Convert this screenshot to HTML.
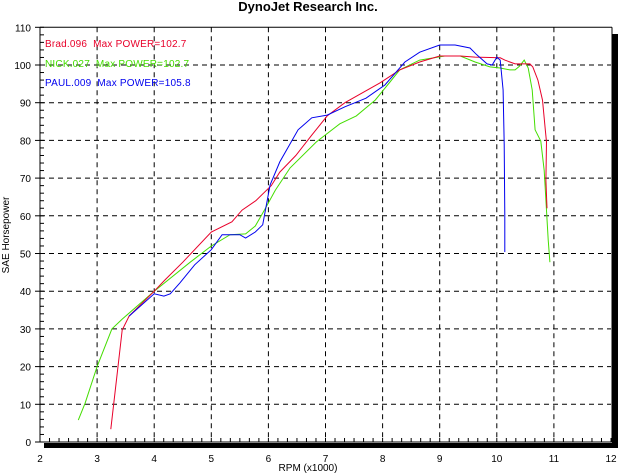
<!DOCTYPE html>
<html><head><meta charset="utf-8"><style>
html,body{margin:0;padding:0;background:#fff;}
svg{display:block;font-family:"Liberation Sans",sans-serif;}
.lg{white-space:pre;letter-spacing:0.2px;}
</style></head><body>
<svg id="chart" width="618" height="473" viewBox="0 0 618 473" xmlns="http://www.w3.org/2000/svg">
<text x="308" y="11" text-anchor="middle" font-size="13" font-weight="bold">DynoJet Research Inc.</text>
<g id="shadow">
<rect x="612" y="34" width="6" height="414" fill="#000"/>
<rect x="44" y="443" width="574" height="5" fill="#000"/>
</g>
<g id="grid"></g>
<g id="axes"></g>
<g id="series"></g>
<g id="legend">
<text class="lg" xml:space="preserve" x="45" y="47" font-size="10" fill="#e8002a">Brad.096  Max POWER=102.7</text>
<text class="lg" xml:space="preserve" x="45" y="67" font-size="10" fill="#44dd00">NICK.027  Max POWER=102.7</text>
<text class="lg" xml:space="preserve" x="45" y="86" font-size="10" fill="#0000ee">PAUL.009  Max POWER=105.8</text>
</g>
<text transform="translate(9,235) rotate(-90)" text-anchor="middle" font-size="10">SAE Horsepower</text>
<text x="308" y="471" text-anchor="middle" font-size="10">RPM (x1000)</text>
</svg>
<script>
const xTicks=[2,3,4,5,6,7,8,9,10,11,12];
const yTicks=[0,10,20,30,40,50,60,70,80,90,100,110];
const bradRpm=[3.24,3.44,3.56,4.0,4.19,4.5,5.0,5.36,5.54,5.78,6.05,6.2,6.48,6.76,7.03,7.34,7.95,8.3,8.65,9.0,9.36,9.62,10.06,10.14,10.32,10.58,10.63,10.72,10.8,10.85,10.87,10.86,10.88];
const bradHp=[3.4,29.7,33.4,40,43,47.7,55.7,58.4,61.5,64,68,71.6,76,81.4,86.5,90,95.2,98.7,100.8,102.4,102.4,102.1,101.9,101.3,100.3,100.3,99.5,96,90.7,82.8,79.6,69.5,62];
const nickRpm=[2.67,2.79,3.0,3.26,3.44,4.0,4.63,5.0,5.33,5.6,5.77,5.93,6.12,6.38,6.84,7.25,7.54,7.87,8.13,8.3,8.65,9.09,9.36,9.62,9.88,10.06,10.23,10.32,10.4,10.48,10.55,10.62,10.67,10.77,10.83,10.86,10.9,10.93];
const nickHp=[5.8,10.3,20,30,32.6,40,47.7,52,55,55.2,57.3,61.5,66.8,72.7,79.6,84.4,86.5,90.7,95.5,98.7,101.3,102.4,102.4,100.8,99.5,99.2,98.7,98.7,99.7,101.3,99.2,93.4,82.8,79.8,72,64.2,53.6,47.7];
const paulRpm=[3.56,4.0,4.17,4.28,4.45,4.71,5.0,5.19,5.5,5.6,5.77,5.9,6.03,6.2,6.52,6.76,7.03,7.34,7.71,8.04,8.39,8.65,9.0,9.27,9.53,9.65,9.83,9.92,10.0,10.06,10.11,10.13,10.14,10.14];
const paulHp=[33.4,39.3,38.7,39.3,42.2,47,51,55,55,54.1,55.7,57.6,68.2,74.3,82.8,86,86.7,88.9,91.2,94.7,100.8,103.4,105.3,105.3,104.5,102.7,100.3,100,102.1,101.3,93.4,79,60.2,50.4];
const NS="http://www.w3.org/2000/svg";
const X0=40,X1=611,Y0=442,Y1=27.3;
function sx(v){return X0+(v-2)/10*(X1-X0);}
function sy(v){return Y0-v/110*(Y0-Y1);}
function mk(tag,attrs,parent){const e=document.createElementNS(NS,tag);for(const k in attrs)e.setAttribute(k,attrs[k]);parent.appendChild(e);return e;}
const grid=document.getElementById('grid'),axes=document.getElementById('axes'),series=document.getElementById('series');
xTicks.forEach(t=>{
 if(t>2&&t<12){const l=mk('line',{x1:sx(t),x2:sx(t),y1:Y1,y2:Y0,stroke:'#000','stroke-dasharray':'5,4'},grid);
 
 }
 const tx=mk('text',{x:sx(t),y:462,'text-anchor':'middle','font-size':10},axes);tx.textContent=t;
 
 
});
yTicks.forEach(t=>{
 if(t>0&&t<110){const l=mk('line',{x1:X0,x2:X1,y1:sy(t),y2:sy(t),stroke:'#000','stroke-dasharray':'5,4'},grid);
 
 }
 const tx=mk('text',{x:31,y:sy(t)+4,'text-anchor':'end','font-size':10},axes);tx.textContent=t;
 
 
 mk('line',{x1:X0-5,x2:X0,y1:sy(t),y2:sy(t),stroke:'#000'},axes);
});
for(let v=0;v<=110;v+=2){mk('line',{x1:X0,x2:X0+4,y1:sy(v),y2:sy(v),stroke:'#000'},axes);}
for(let r=2;r<=12.001;r+=1/6){mk('line',{x1:sx(r),x2:sx(r),y1:Y0-4,y2:Y0,stroke:'#000'},axes);}
mk('line',{x1:X0,x2:X1+1,y1:Y1,y2:Y1,stroke:'#000'},axes);
mk('line',{x1:X0,x2:X1+1,y1:Y0,y2:Y0,stroke:'#000'},axes);
mk('line',{x1:X0,x2:X0,y1:Y1,y2:Y0,stroke:'#000'},axes);
mk('line',{x1:X1+1,x2:X1+1,y1:Y1,y2:Y0,stroke:'#000'},axes);
function drawLine(rs,hs,color,name){
 const d=rs.map((r,i)=>(i?'L':'M')+sx(r).toFixed(1)+','+sy(hs[i]).toFixed(1)).join(' ');
 const p=mk('path',{d:d,fill:'none',stroke:color,'stroke-width':1},series);
 
 
}
drawLine(nickRpm,nickHp,'#44dd00','nick-power-line');
drawLine(bradRpm,bradHp,'#e8002a','brad-power-line');
drawLine(paulRpm,paulHp,'#0000ee','paul-power-line');
</script>
</body></html>
